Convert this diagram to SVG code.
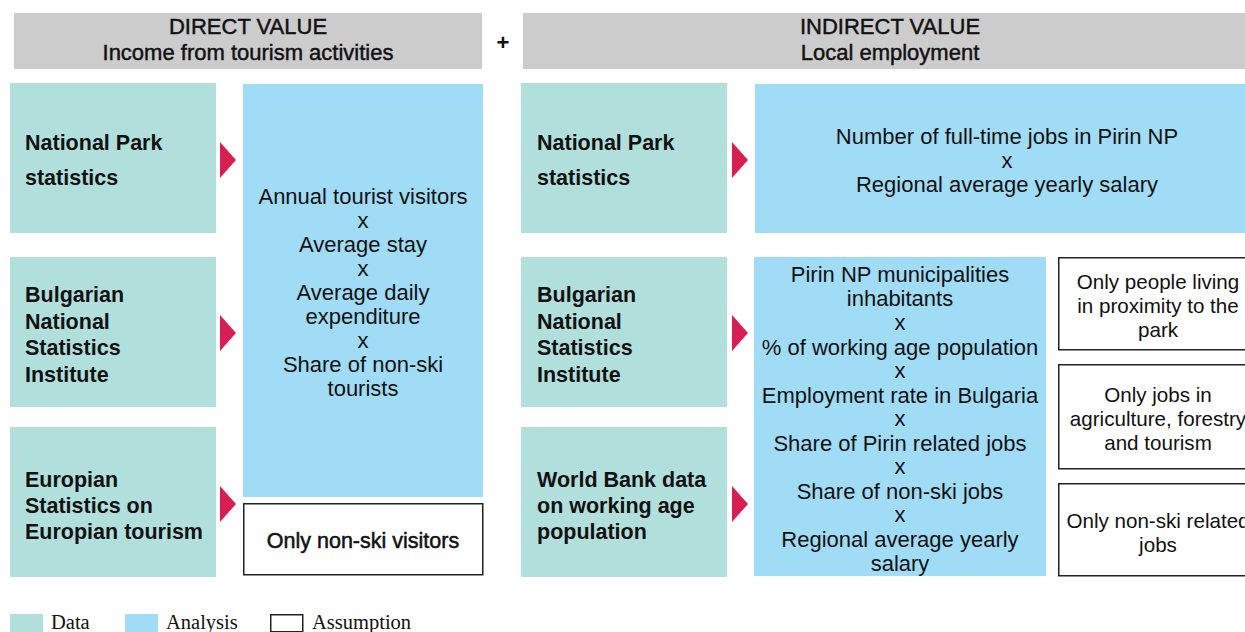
<svg xmlns="http://www.w3.org/2000/svg" width="1245" height="632" viewBox="0 0 1245 632">
<style>
.hdr{fill:#cccccc}
.data{fill:#b1dfdc}
.ana{fill:#a0dcf6}
.asm{fill:#ffffff;stroke:#222;stroke-width:1.5}
.arrow{fill:#d81e52}
text{font-family:"Liberation Sans",Arial,Helvetica,sans-serif;fill:#111}
.h{font-size:22px;text-anchor:middle;stroke:#111;stroke-width:0.45}
.b{font-size:21.5px;font-weight:bold}
.t{font-size:22px;text-anchor:middle}
.a{font-size:20.6px;text-anchor:middle}
.m{font-size:21.5px;text-anchor:middle;stroke:#111;stroke-width:0.5}
.leg{font-family:"Liberation Serif","Times New Roman",serif;font-size:20.5px}
</style>
<rect width="1245" height="632" fill="#ffffff"/>

<g id="header-direct">
<rect class="hdr" x="14" y="13" width="468" height="56"/>
<text class="h" x="248" y="34">DIRECT VALUE</text>
<text class="h" x="248" y="60">Income from tourism activities</text>
</g>
<g id="plus"><text x="503" y="50" style="font-size:22px;font-weight:bold;text-anchor:middle">+</text></g>
<g id="header-indirect">
<rect class="hdr" x="523" y="13" width="734" height="56"/>
<text class="h" x="890" y="34">INDIRECT VALUE</text>
<text class="h" x="890" y="60">Local employment</text>
</g>

<g id="data-np-left">
<rect class="data" x="10" y="83" width="206" height="150"/>
<text class="b" x="25" y="150">National Park</text>
<text class="b" x="25" y="185">statistics</text>
</g>
<g id="data-bnsi-left">
<rect class="data" x="10" y="257" width="206" height="150"/>
<text class="b" x="25" y="302">Bulgarian</text>
<text class="b" x="25" y="329">National</text>
<text class="b" x="25" y="355">Statistics</text>
<text class="b" x="25" y="382">Institute</text>
</g>
<g id="data-eu-left">
<rect class="data" x="10" y="427" width="206" height="150"/>
<text class="b" x="25" y="487">Europian</text>
<text class="b" x="25" y="513">Statistics on</text>
<text class="b" x="25" y="539">Europian tourism</text>
</g>

<g id="analysis-direct">
<rect class="ana" x="243" y="84" width="240" height="413"/>
<text class="t" x="363" y="204">Annual tourist visitors</text>
<text class="t" x="363" y="228">x</text>
<text class="t" x="363" y="252">Average stay</text>
<text class="t" x="363" y="276">x</text>
<text class="t" x="363" y="300">Average daily</text>
<text class="t" x="363" y="324">expenditure</text>
<text class="t" x="363" y="348">x</text>
<text class="t" x="363" y="372">Share of non-ski</text>
<text class="t" x="363" y="396">tourists</text>
</g>
<g id="assumption-nonski-visitors">
<rect class="asm" x="243.75" y="503.75" width="239" height="71"/>
<text class="m" x="363" y="548">Only non-ski visitors</text>
</g>

<g id="data-np-right">
<rect class="data" x="521" y="83" width="206" height="150"/>
<text class="b" x="537" y="150">National Park</text>
<text class="b" x="537" y="185">statistics</text>
</g>
<g id="data-bnsi-right">
<rect class="data" x="521" y="257" width="206" height="150"/>
<text class="b" x="537" y="302">Bulgarian</text>
<text class="b" x="537" y="329">National</text>
<text class="b" x="537" y="355">Statistics</text>
<text class="b" x="537" y="382">Institute</text>
</g>
<g id="data-wb-right">
<rect class="data" x="521" y="427" width="206" height="150"/>
<text class="b" x="537" y="487">World Bank data</text>
<text class="b" x="537" y="513">on working age</text>
<text class="b" x="537" y="539">population</text>
</g>

<g id="analysis-np-jobs">
<rect class="ana" x="755" y="84" width="504" height="149"/>
<text class="t" x="1007" y="144">Number of full-time jobs in Pirin NP</text>
<text class="t" x="1007" y="168">x</text>
<text class="t" x="1007" y="192">Regional average yearly salary</text>
</g>
<g id="analysis-employment">
<rect class="ana" x="754" y="257" width="292" height="319"/>
<text class="t" x="900" y="282">Pirin NP municipalities</text>
<text class="t" x="900" y="306">inhabitants</text>
<text class="t" x="900" y="330">x</text>
<text class="t" x="900" y="355">% of working age population</text>
<text class="t" x="900" y="378">x</text>
<text class="t" x="900" y="403">Employment rate in Bulgaria</text>
<text class="t" x="900" y="426">x</text>
<text class="t" x="900" y="451">Share of Pirin related jobs</text>
<text class="t" x="900" y="474">x</text>
<text class="t" x="900" y="499">Share of non-ski jobs</text>
<text class="t" x="900" y="522">x</text>
<text class="t" x="900" y="547">Regional average yearly</text>
<text class="t" x="900" y="571">salary</text>
</g>

<g id="assumption-proximity">
<rect class="asm" x="1058.75" y="257.75" width="200" height="92"/>
<text class="a" x="1158" y="289">Only people living</text>
<text class="a" x="1158" y="313">in proximity to the</text>
<text class="a" x="1158" y="337">park</text>
</g>
<g id="assumption-sectors">
<rect class="asm" x="1058.75" y="364.75" width="200" height="104"/>
<text class="a" x="1158" y="402">Only jobs in</text>
<text class="a" x="1158" y="426">agriculture, forestry</text>
<text class="a" x="1158" y="450">and tourism</text>
</g>
<g id="assumption-nonski-jobs">
<rect class="asm" x="1058.75" y="483.75" width="200" height="92"/>
<text class="a" x="1158" y="528">Only non-ski related</text>
<text class="a" x="1158" y="552">jobs</text>
</g>

<g id="connectors">
<path class="arrow" d="M220,142 L236,160 L220,178 Z"/>
<path class="arrow" d="M220,315 L236,333 L220,351 Z"/>
<path class="arrow" d="M220,486 L236,504 L220,522 Z"/>
<path class="arrow" d="M732,142 L748,160 L732,178 Z"/>
<path class="arrow" d="M732,315 L748,333 L732,351 Z"/>
<path class="arrow" d="M732,486 L748,504 L732,522 Z"/>
</g>

<g id="legend">
<rect class="data" x="10" y="614" width="33" height="20"/>
<text class="leg" x="51" y="629">Data</text>
<rect class="ana" x="125" y="614" width="33" height="20"/>
<text class="leg" x="166" y="629">Analysis</text>
<rect class="asm" x="270.75" y="614.75" width="32" height="17"/>
<text class="leg" x="312" y="629">Assumption</text>
</g>
</svg>
